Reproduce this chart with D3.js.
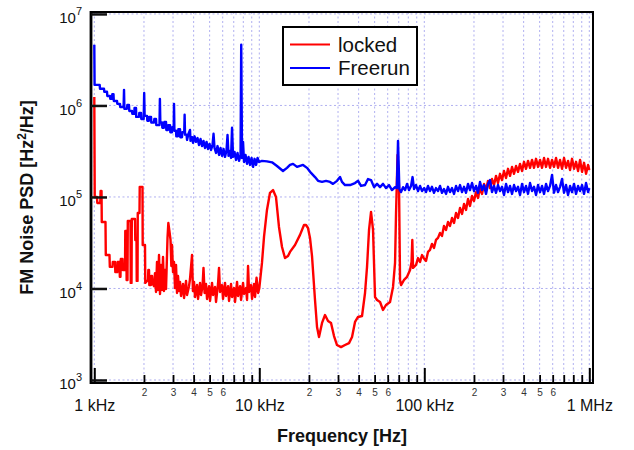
<!DOCTYPE html>
<html>
<head>
<meta charset="utf-8">
<title>FM Noise PSD</title>
<script src="https://cdn.jsdelivr.net/npm/d3@7"></script>
<style>
body { margin: 0; background: #fff; }
svg { font-family: "Liberation Sans", Arial, sans-serif; }
</style>
</head>
<body>
<script>
// ---- data (frequency in kHz, PSD in Hz^2/Hz) ----
// locked, 1 kHz .. 100 kHz
var lockedKHz = [
  1.000,1.006,1.038,1.043,1.087,1.092,1.106,1.110,1.169,1.174,1.236,1.242,1.289,1.295,1.335,1.341,1.379,1.384,1.422,1.428,
  1.441,1.448,1.483,1.489,1.535,1.541,1.563,1.570,1.589,1.596,1.657,1.663,1.681,1.688,1.765,1.772,1.802,1.808,1.828,1.834,
  1.879,1.885,1.959,1.965,2.029,2.037,2.116,2.125,2.146,2.155,2.207,2.216,2.238,2.247,2.301,2.333,2.366,2.399,2.433,2.467,
  2.502,2.537,2.573,2.609,2.645,2.683,2.721,2.778,2.810,2.857,2.897,2.930,2.958,3.000,3.042,3.085,3.128,3.172,3.217,3.262,
  3.308,3.354,3.449,3.498,3.597,3.648,3.750,3.803,3.91,3.96,4.022,4.078,4.194,4.253,4.373,4.435,4.53,4.59,4.66,4.755,
  4.822,4.959,5.028,5.171,5.243,5.392,5.467,5.622,5.70,5.781,5.945,6.028,6.199,6.286,6.464,6.555,6.741,6.836,7.029,7.128,
  7.33,7.433,7.644,7.751,7.97,8.083,8.311,8.43,8.547,8.667,8.913,9.038,9.294,9.424,9.62,9.828,
  10.0,10.38,10.68,11.13,11.61,12.11,12.62,13.16,13.73,14.31,14.93,15.35,16.46,17.65,18.66,19.19,19.73,20.29,20.87,21.76,
  22.38,23.01,24.0,25.02,26.09,27.21,28.37,29.58,31.28,33.08,34.98,36.48,38.03,39.66,41.94,43.73,44.97,46.24,47.55,48.9,
  50.28,51.71,53.92,56.22,58.6,61.99,64.64,66.48,67.41,68.85,70.29,71.28,72.28,75.38,78.6,81.96,83.7,84.6,85.47,89.13,
  91.6,94.24,96.9
];
var lockedPsd = [
  1.24e6,1.0e5,1.0e5,8.6e4,8.6e4,1.16e5,1.16e5,5.33e4,5.33e4,2.32e4,2.32e4,1.72e4,1.72e4,1.95e4,1.95e4,1.51e4,1.51e4,1.95e4,1.95e4,1.34e4,
  1.34e4,2.10e4,2.10e4,1.59e4,1.59e4,4.25e4,4.25e4,1.24e4,1.24e4,5.47e4,5.47e4,1.15e4,1.15e4,5.75e4,5.75e4,3.39e4,3.39e4,1.21e4,1.21e4,6.69e4,
  6.69e4,1.29e5,1.29e5,2.99e4,2.99e4,1.15e4,1.24e4,1.59e4,1.59e4,1.09e4,1.09e4,1.37e4,1.37e4,1.15e4,1.06e4,1.47e4,9.16e3,1.95e4,9.63e3,2.32e4,
  8.71e3,1.81e4,9.63e3,2.21e4,9.39e3,1.59e4,9.86e3,3.57e4,5.2e4,4.15e4,3.39e4,1.76e4,2.99e4,1.51e4,1.95e4,1.01e4,1.81e4,8.93e3,1.37e4,9.39e3,
  1.18e4,8.28e3,1.12e4,7.87e3,1.21e4,8.49e3,1.06e4,1.27e4,2.32e4,9.39e3,1.18e4,8.07e3,1.09e4,7.68e3,1.15e4,8.49e3,1.06e4,1.68e4,8.93e3,1.12e4,
  7.68e3,1.06e4,7.3e3,1.15e4,8.49e3,1.04e4,7.12e3,1.12e4,1.68e4,9.16e3,1.09e4,7.68e3,1.15e4,8.28e3,1.06e4,7.3e3,1.12e4,8.07e3,1.01e4,7.12e3,
  1.18e4,8.28e3,1.06e4,7.49e3,1.15e4,8.71e3,1.01e4,7.49e3,1.76e4,9.16e3,1.09e4,7.68e3,1.12e4,8.07e3,1.31e4,8.93e3,
  1.01e4,1.90e4,3.66e4,7.21e4,1.11e5,1.19e5,1.0e5,4.7e4,2.84e4,2.15e4,2.26e4,2.51e4,2.99e4,3.85e4,4.94e4,4.94e4,4.58e4,3.57e4,2.26e4,7.49e3,
  3.79e3,2.95e3,4.2e3,5.13e3,4.42e3,4.2e3,3.02e3,2.41e3,2.29e3,2.41e3,2.53e3,2.95e3,4.31e3,4.88e3,5.0e3,8.93e3,1.72e4,4.36e4,6.86e4,4.36e4,
  8.07e3,7.49e3,7.12e3,5.82e3,6.6e3,7.12e3,1.04e4,1.90e4,6.69e4,2.88e5,1.29e5,1.24e4,1.09e4,1.24e4,1.34e4,1.59e4,1.95e4,3.39e4,1.68e4,1.81e4,
  2.15e4,1.95e4,2.32e4
];

// freerun, 1 kHz .. 100 kHz
var freerunKHz = [
  1.000,1.004,1.078,1.083,1.145,1.150,1.194,1.199,1.245,1.250,1.280,1.286,1.307,1.313,1.373,1.379,1.431,1.437,1.505,1.514,
  1.522,1.578,1.585,1.623,1.630,1.693,1.700,1.747,1.754,1.790,1.795,1.866,1.874,1.919,1.927,1.992,2.006,2.019,2.087,2.096,
  2.146,2.155,2.207,2.216,2.301,2.311,2.366,2.376,2.484,2.498,2.513,2.573,2.584,2.645,2.657,2.721,2.732,2.797,2.809,2.877,
  2.889,2.958,2.970,3.029,3.042,3.059,3.128,3.141,3.217,3.231,3.308,3.322,3.401,3.416,3.507,3.527,3.547,3.623,3.648,3.725,
  3.803,3.829,3.911,3.966,4.050,4.135,4.223,4.312,4.404,4.497,4.592,4.689,4.789,4.890,4.993,5.099,5.207,5.28,5.354,5.467,
  5.583,5.701,5.822,5.945,6.071,6.199,6.330,6.419,6.510,6.648,6.741,6.836,6.932,7.078,7.228,7.381,7.538,7.698,7.77,7.860,
  7.97,8.083,8.254,8.428,8.607,8.789,8.975,9.165,9.359,9.557,9.759,9.966,
  10.38,11.13,11.94,12.80,13.92,14.72,15.35,16.01,16.93,17.65,18.41,19.46,20.58,21.76,22.7,24.0,25.37,26.83,27.97,29.58,
  30.85,31.7,33.08,35.47,38.03,39.7,41.35,43.73,45.6,47.55,49.6,51.71,53.92,56.22,58.6,61.13,63.7,66.48,68.2,69.3,
  70.6,72.28,74.33,76.44,78.6,80.83,83.11,84.9,86.7,89.1,91.6,94.24,96.9
];
var freerunPsd = [
  4.6e6,1.68e6,1.68e6,1.52e6,1.52e6,1.41e6,1.41e6,1.27e6,1.27e6,1.18e6,1.18e6,1.33e6,1.33e6,1.12e6,1.12e6,1.04e6,1.04e6,9.6e5,9.6e5,1.48e6,
  9.2e5,9.2e5,1.01e6,1.01e6,8.7e5,8.7e5,8.1e5,8.1e5,9.4e5,9.4e5,7.5e5,7.5e5,8.3e5,8.3e5,7.1e5,7.1e5,1.37e6,7.7e5,7.7e5,6.8e5,
  6.8e5,7.5e5,7.5e5,6.5e5,6.5e5,7.1e5,7.1e5,6.1e5,6.1e5,1.18e6,6.5e5,6.5e5,5.7e5,5.7e5,6.6e5,6.6e5,5.4e5,5.4e5,6.1e5,6.1e5,
  5.1e5,5.1e5,5.8e5,5.8e5,1.04e6,5.3e5,5.3e5,4.6e5,4.6e5,5.5e5,5.5e5,4.5e5,4.5e5,5.1e5,5.1e5,7.9e5,4.8e5,4.8e5,4.2e5,4.9e5,
  5.4e5,4.1e5,4.5e5,3.9e5,4.6e5,4.0e5,4.4e5,3.7e5,4.3e5,3.6e5,4.1e5,3.43e5,4.0e5,3.34e5,3.8e5,3.26e5,3.7e5,4.9e5,3.43e5,3.03e5,
  3.6e5,2.88e5,3.43e5,2.81e5,3.34e5,2.74e5,3.26e5,4.76e5,2.81e5,3.18e5,2.67e5,5.7e5,2.74e5,3.10e5,2.54e5,3.03e5,2.48e5,2.88e5,4.6e6,2.67e5,
  4.0e5,2.41e5,2.88e5,2.30e5,2.74e5,2.24e5,2.67e5,2.13e5,2.61e5,2.24e5,2.67e5,2.41e5,
  2.48e5,2.45e5,2.39e5,2.18e5,1.92e5,2.08e5,2.24e5,2.30e5,2.13e5,2.19e5,2.24e5,2.08e5,1.83e5,1.65e5,1.50e5,1.46e5,1.50e5,1.46e5,1.39e5,1.50e5,
  1.65e5,1.46e5,1.35e5,1.35e5,1.42e5,1.50e5,1.32e5,1.35e5,1.57e5,1.53e5,1.28e5,1.39e5,1.28e5,1.39e5,1.25e5,1.35e5,1.19e5,1.28e5,1.25e5,4.1e5,
  1.22e5,1.13e5,1.28e5,1.19e5,1.39e5,1.19e5,1.32e5,1.65e5,1.22e5,1.35e5,1.16e5,1.32e5,1.16e5
];

// 100 kHz .. 1 MHz band (same frequency bins for both traces)
var hfKHz = [
  100,102.4,105.3,108.3,111.3,114.5,117.7,121.1,124.5,128.0,131.6,135.4,139.2,143.1,147.2,151.4,155.7,160.1,164.6,169.3,
  174.1,179.0,184.1,189.2,194.6,200.1,205.8,211.6,217.6,223.8,230.1,236.6,243.3,250.2,257.3,264.5,272.1,279.7,287.7,295.8,
  304.2,312.8,321.7,330.8,340.1,349.8,359.7,369.9,380.3,391.1,402.2,413.5,425.3,437.3,449.7,462.4,475.5,489.0,502.8,517.1,
  531.7,546.7,562.2,578.1,594.5,611.3,628.6,646.4,664.8,683.6,702.9,722.8,743.3,764.4,786.0,808.3,831.1,854.7,878.9,903.8,
  929.4,955.7,982.8,1000
];
var lockedHfPsd = [
  2.10e4,2.0e4,2.51e4,2.64e4,3.07e4,2.77e4,3.39e4,3.57e4,4.04e4,3.75e4,4.82e4,4.36e4,5.33e4,4.82e4,5.9e4,5.2e4,6.69e4,5.9e4,7.58e4,6.52e4,
  8.38e4,7.21e4,9.5e4,7.98e4,1.025e5,9.04e4,1.13e5,9.75e4,1.25e5,1.08e5,1.39e5,1.19e5,1.50e5,1.25e5,1.57e5,1.35e5,1.70e5,1.42e5,1.79e5,1.53e5,
  1.92e5,1.61e5,2.03e5,1.70e5,2.13e5,1.79e5,2.18e5,1.88e5,2.30e5,1.92e5,2.42e5,2.03e5,2.48e5,2.08e5,2.54e5,2.08e5,2.61e5,2.13e5,2.54e5,2.08e5,
  2.67e5,2.13e5,2.61e5,2.08e5,2.54e5,2.13e5,2.67e5,2.08e5,2.54e5,2.03e5,2.67e5,2.08e5,2.48e5,1.97e5,2.61e5,2.03e5,2.42e5,1.92e5,2.54e5,1.88e5,
  2.36e5,1.79e5,2.24e5,1.97e5
];
var freerunHfPsd = [
  1.25e5,1.13e5,1.32e5,1.16e5,1.29e5,1.11e5,1.25e5,1.16e5,1.32e5,1.11e5,1.22e5,1.08e5,1.29e5,1.13e5,1.25e5,1.08e5,1.32e5,1.16e5,1.35e5,1.13e5,
  1.29e5,1.11e5,1.39e5,1.19e5,1.42e5,1.16e5,1.32e5,1.11e5,1.46e5,1.19e5,1.35e5,1.08e5,1.39e5,1.53e5,1.13e5,1.32e5,1.11e5,1.35e5,1.16e5,1.29e5,
  1.05e5,1.39e5,1.13e5,1.32e5,1.08e5,1.35e5,1.16e5,1.29e5,1.05e5,1.39e5,1.13e5,1.32e5,1.08e5,1.42e5,1.16e5,1.29e5,1.05e5,1.35e5,1.13e5,1.32e5,
  1.08e5,1.39e5,1.16e5,1.32e5,1.74e5,1.11e5,1.35e5,1.13e5,1.29e5,1.57e5,1.11e5,1.35e5,1.05e5,1.32e5,1.13e5,1.39e5,1.08e5,1.32e5,1.16e5,1.35e5,
  1.08e5,1.42e5,1.13e5,1.25e5
];

var majorKHz = [1, 10, 100, 1000];
var majorLabels = ["1 kHz", "10 kHz", "100 kHz", "1 MHz"];
var minorMult = [2, 3, 4, 5, 6, 7, 8, 9];
var minorLabeled = [2, 3, 4, 5, 6];
var yDecades = [3, 4, 5, 6, 7];

// ---- layout ----
var W = 634, H = 450;
var margin = {left: 91, top: 12, right: 41, bottom: 67};
var pw = W - margin.left - margin.right;
var ph = H - margin.top - margin.bottom;

var x = d3.scaleLog().domain([0.955, 1053]).range([0, pw]);
var y = d3.scaleLog().domain([927, 1.05e7]).range([ph, 0]);

var svg = d3.select("body").append("svg")
    .attr("width", W).attr("height", H);
var g = svg.append("g").attr("transform", "translate(" + margin.left + "," + margin.top + ")");

g.append("clipPath").attr("id", "clip")
  .append("rect").attr("width", pw).attr("height", ph);

// minor/major x positions
var minorKHz = [];
[1, 10, 100].forEach(function(d){ minorMult.forEach(function(m){ minorKHz.push(m * d); }); });
var allX = majorKHz.concat(minorKHz);

// grid
var gridColor = "#b0b0f0";
g.append("g").selectAll("line").data(allX).enter().append("line")
  .attr("x1", function(d){ return x(d); }).attr("x2", function(d){ return x(d); })
  .attr("y1", 0).attr("y2", ph)
  .attr("stroke", gridColor).attr("stroke-width", 1).attr("stroke-dasharray", "2,2.5");
g.append("g").selectAll("line").data(yDecades).enter().append("line")
  .attr("x1", 0).attr("x2", pw)
  .attr("y1", function(d){ return y(Math.pow(10, d)); }).attr("y2", function(d){ return y(Math.pow(10, d)); })
  .attr("stroke", gridColor).attr("stroke-width", 1).attr("stroke-dasharray", "2,2.5");

// traces
var line = d3.line()
  .x(function(d){ return x(d[0]); })
  .y(function(d){ return y(d[1]); });

var lockedData = d3.zip(lockedKHz.concat(hfKHz), lockedPsd.concat(lockedHfPsd));
var freerunData = d3.zip(freerunKHz.concat(hfKHz), freerunPsd.concat(freerunHfPsd));

var traces = g.append("g").attr("clip-path", "url(#clip)");
traces.append("path").datum(lockedData)
  .attr("d", line).attr("fill", "none").attr("stroke", "#ff0000")
  .attr("stroke-width", 2.4).attr("stroke-linejoin", "round");
traces.append("path").datum(freerunData)
  .attr("d", line).attr("fill", "none").attr("stroke", "#0000ff")
  .attr("stroke-width", 2.4).attr("stroke-linejoin", "round");

// frame
g.append("rect").attr("width", pw).attr("height", ph)
  .attr("fill", "none").attr("stroke", "#000").attr("stroke-width", 2);
g.append("line").attr("x1", 0).attr("x2", 0).attr("y1", -1).attr("y2", ph + 1)
  .attr("stroke", "#000").attr("stroke-width", 2.8);

// x axis: minor ticks
var xMinor = d3.axisBottom(x).tickValues(minorKHz).tickSize(-8).tickPadding(0)
  .tickFormat(function(d){
    var m = Math.round(d / Math.pow(10, Math.floor(Math.log10(d) + 1e-9)));
    return minorLabeled.indexOf(m) >= 0 ? String(m) : "";
  });
var gxm = g.append("g").attr("transform", "translate(0," + ph + ")").call(xMinor);
gxm.select(".domain").remove();
gxm.selectAll(".tick line").attr("stroke", "#000").attr("stroke-width", 1.8);
gxm.selectAll(".tick text").attr("y", 13).attr("dy", 0)
  .attr("font-size", 10).attr("fill", "#333").attr("font-family", "Liberation Sans, Arial, sans-serif");

// x axis: major ticks
var xMajor = d3.axisBottom(x).tickValues(majorKHz).tickSize(-15)
  .tickFormat(function(d, i){ return majorLabels[i]; });
var gxM = g.append("g").attr("transform", "translate(0," + ph + ")").call(xMajor);
gxM.select(".domain").remove();
gxM.selectAll(".tick line").attr("stroke", "#000").attr("stroke-width", 2);
gxM.selectAll(".tick text").attr("y", 28).attr("dy", 0)
  .attr("font-size", 16).attr("fill", "#111").attr("font-family", "Liberation Sans, Arial, sans-serif");

// y axis
var yAxis = d3.axisLeft(y).tickValues(yDecades.map(function(d){ return Math.pow(10, d); }))
  .tickSize(-16).tickFormat("");
var gy = g.append("g").call(yAxis);
gy.select(".domain").remove();
gy.selectAll(".tick line").attr("stroke", "#111").attr("stroke-width", 2.5);
gy.selectAll(".tick").each(function(d){
  var t = d3.select(this).append("text")
    .attr("x", -9).attr("y", 9).attr("text-anchor", "end")
    .attr("fill", "#111").attr("font-size", 15)
    .attr("font-family", "Liberation Sans, Arial, sans-serif");
  t.append("tspan").text("10");
  t.append("tspan").attr("dy", -8).attr("font-size", 11).text(String(Math.round(Math.log10(d))));
});

// axis titles
svg.append("text")
  .attr("x", margin.left + pw / 2).attr("y", 442)
  .attr("text-anchor", "middle").attr("font-weight", "bold").attr("font-size", 18)
  .attr("fill", "#111")
  .text("Frequency [Hz]");

var yt = svg.append("text")
  .attr("transform", "translate(33," + (margin.top + ph / 2) + ") rotate(-90)")
  .attr("text-anchor", "middle").attr("font-weight", "bold").attr("font-size", 18)
  .attr("fill", "#111");
yt.append("tspan").text("FM Noise PSD [Hz");
yt.append("tspan").attr("dy", -7).attr("font-size", 12).text("2");
yt.append("tspan").attr("dy", 7).text("/Hz]");

// legend
var legend = svg.append("g");
legend.append("rect").attr("x", 283).attr("y", 27).attr("width", 134).attr("height", 58)
  .attr("fill", "#fff").attr("stroke", "#000").attr("stroke-width", 2);
var legendItems = [{name: "locked", color: "#ff0000"}, {name: "Freerun", color: "#0000ff"}];
legendItems.forEach(function(it, i){
  var ly = 44.5 + i * 23.5;
  legend.append("line").attr("x1", 290).attr("x2", 330).attr("y1", ly).attr("y2", ly)
    .attr("stroke", it.color).attr("stroke-width", 2);
  legend.append("text").attr("x", 338).attr("y", ly + 7)
    .attr("font-size", 20.5).attr("fill", "#111").text(it.name);
});
</script>
</body>
</html>
